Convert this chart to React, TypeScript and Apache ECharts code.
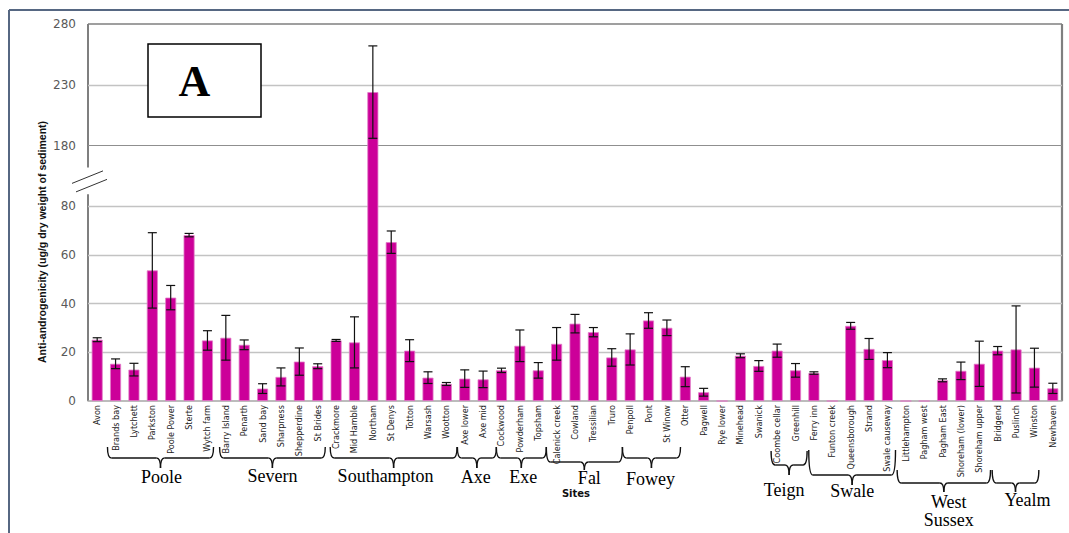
import React, { useEffect, useRef } from 'react';
import * as echarts from 'echarts';

const sites = [
  'Avon', 'Brands bay', 'Lytchett', 'Parkston', 'Poole Power', 'Sterte', 'Wytch farm',
  'Barry Island', 'Penarth', 'Sand bay', 'Sharpness', 'Shepperdine', 'St Brides',
  'Crackmore', 'Mid Hamble', 'Northam', 'St Denys', 'Totton', 'Warsash', 'Wootton',
  'Axe lower', 'Axe mid', 'Cockwood', 'Powderham', 'Topsham',
  'Calenick creek', 'Cowland', 'Tressilian', 'Truro', 'Penpoll', 'Pont', 'St Winow',
  'Otter', 'Pagwell', 'Rye lower', 'Minehead', 'Swanick', 'Coombe cellar', 'Greenhill',
  'Ferry inn', 'Funton creek', 'Queensborough', 'Strand', 'Swale causeway',
  'Littlehampton', 'Pagham west', 'Pagham East', 'Shoreham (lower)', 'Shoreham upper',
  'Bridgend', 'Puslinch', 'Winston', 'Newhaven',
];

const values = [
  25.2, 15.3, 12.9, 53.7, 42.5, 68.2, 24.9,
  26.0, 23.1, 5.1, 9.9, 16.2, 14.3,
  24.9, 24.1, 224, 65.3, 20.7, 9.6, 7.0,
  9.2, 8.9, 12.6, 22.7, 12.6,
  23.5, 31.8, 28.3, 17.9, 21.2, 33.1, 30.1,
  10.0, 3.6, 0, 18.6, 14.4, 20.7, 12.6,
  11.5, 0, 30.9, 21.4, 16.8,
  0, 0, 8.5, 12.4, 15.3,
  20.7, 21.2, 13.7, 5.2,
];

const errors = [
  0.8, 2.0, 2.6, 15.5, 5.0, 0.7, 4.0,
  9.2, 2.0, 2.0, 3.7, 5.6, 1.0,
  0.4, 10.5, 38, 4.6, 4.5, 2.4, 0.6,
  3.6, 3.4, 0.9, 6.5, 3.2,
  6.7, 3.8, 1.9, 3.6, 6.4, 3.2, 3.2,
  4.1, 1.6, 0, 0.8, 2.2, 2.7, 2.8,
  0.5, 0, 1.4, 4.3, 3.1,
  0, 0, 0.6, 3.6, 9.3,
  1.7, 17.9, 8.0, 2.1,
];

const yTicks = [0, 20, 40, 60, 80, 180, 230, 280];

const groupNames = ['Poole', 'Severn', 'Southampton', 'Axe', 'Exe', 'Fal', 'Fowey', 'Teign', 'Swale', 'West\nSussex', 'Yealm'];
const groupFrom = [0.56, 6.66, 12.68, 19.6, 21.72, 24.44, 28.58, 36.67, 38.72, 43.53, 48.7];
const groupTo = [6.33, 12.41, 19.58, 21.72, 24.44, 28.58, 31.74, 38.63, 43.44, 48.61, 51.24];

// layout of the brackets (pixels): top of ends, horizontal, tip, label centre y, label x shift
const bracketLayout = [
  { top: 447, h: 458, tip: 468, ly: 477, dx: 1 },
  { top: 447, h: 458, tip: 468, ly: 476, dx: 0 },
  { top: 447, h: 458, tip: 468, ly: 476, dx: -8 },
  { top: 447, h: 458, tip: 468, ly: 477, dx: -1 },
  { top: 447, h: 458, tip: 468, ly: 477, dx: 2 },
  { top: 447, h: 462, tip: 470, ly: 478, dx: 5 },
  { top: 447, h: 458, tip: 468, ly: 479, dx: -1 },
  { top: 451, h: 465, tip: 475, ly: 490, dx: -5 },
  { top: 450, h: 475, tip: 485, ly: 491, dx: 0 },
  { top: 470, h: 483, tip: 492, ly: 511, dx: 5 },
  { top: 470, h: 483, tip: 492, ly: 500, dx: 12 },
];

const toAxis = (v: number) => (v <= 80 ? v : 105 + (v - 180) / 2);

export default function App() {
  const ref = useRef<HTMLDivElement>(null);
  useEffect(() => {
    const chart = echarts.init(ref.current!, null, { renderer: 'svg' });
    const axisTicks = yTicks.map(toAxis);
    const errData = sites
      .map((_, i) => [i, toAxis(Math.max(0, values[i] - errors[i])), toAxis(values[i] + errors[i]), errors[i]])
      .filter((d) => d[3] > 0);

    const gridMarks = axisTicks.slice(1).map((t, k) => {
      const real = yTicks[k + 1];
      let color = '#c3c3c3';
      let width = 1.3;
      if (real === 180) { color = '#8f8f8f'; width = 1; }
      if (real === 280) { color = '#7f7f7f'; width = 1.6; }
      return { yAxis: t, lineStyle: { color, width, type: 'solid' } };
    });

    const option: any = {
      animation: false,
      grid: { left: 88, right: 7, top: 24, bottom: 132, containLabel: false, outerBoundsMode: 'none' },
      xAxis: {
        type: 'category',
        data: sites,
        axisLine: { show: true, lineStyle: { color: '#a6a6a6', width: 1.5 } },
        axisTick: { show: false },
        axisLabel: {
          interval: 0, rotate: 90, margin: 4, fontSize: 9,
          fontFamily: '"DejaVu Sans Condensed", "Liberation Sans", sans-serif', color: '#222',
        },
      },
      yAxis: {
        type: 'value', min: 0, max: 155,
        axisLine: { show: false }, axisTick: { show: false }, splitLine: { show: false },
        axisLabel: {
          customValues: axisTicks,
          formatter: (v: number) => {
            const i = axisTicks.findIndex((t) => Math.abs(t - v) < 1e-6);
            return i >= 0 ? String(yTicks[i]) : '';
          },
          margin: 12, fontSize: 12, fontFamily: '"DejaVu Sans", sans-serif', color: '#595959',
        },
      },
      series: [
        {
          type: 'bar',
          data: values.map(toAxis),
          barWidth: 11,
          z: 2,
          itemStyle: { color: '#cc0099', borderColor: '#e27cc8', borderWidth: 0.8 },
          markLine: { silent: true, symbol: 'none', z: 1, label: { show: false }, data: gridMarks },
        },
        {
          type: 'custom',
          z: 3,
          data: errData,
          encode: { x: 0, y: [1, 2] },
          renderItem: (params: any, api: any) => {
            const x = api.value(0);
            const p1 = api.coord([x, api.value(1)]);
            const p2 = api.coord([x, api.value(2)]);
            const w = 4.5;
            const st = { stroke: '#111', lineWidth: 1.2 };
            return {
              type: 'group',
              children: [
                { type: 'line', shape: { x1: p1[0], y1: p1[1], x2: p2[0], y2: p2[1] }, style: st },
                { type: 'line', shape: { x1: p1[0] - w, y1: p1[1], x2: p1[0] + w, y2: p1[1] }, style: st },
                { type: 'line', shape: { x1: p2[0] - w, y1: p2[1], x2: p2[0] + w, y2: p2[1] }, style: st },
              ],
            };
          },
        },
      ],
    };
    chart.setOption(option);

    const X = (i: number) => chart.convertToPixel({ xAxisIndex: 0 }, i) as number;
    const Yv = (v: number) => chart.convertToPixel({ yAxisIndex: 0 }, v) as number;
    const band = X(1) - X(0);
    const xAt = (f: number) => X(0) + f * band;
    const gridL = X(0) - band / 2;
    const gridR = X(sites.length - 1) + band / 2;
    const yTop = Yv(155);
    const yBottom = Yv(0);
    const gapHi = Yv(96);
    const gapLo = Yv(85);
    const gapMid = (gapHi + gapLo) / 2;

    const axisStyle = { stroke: '#7f7f7f', lineWidth: 2 };
    const graphics: any[] = [
      // outer frame
      { type: 'line', shape: { x1: 9, y1: 10, x2: 1069, y2: 10 }, style: { stroke: '#566782', lineWidth: 2 } },
      { type: 'line', shape: { x1: 9, y1: 10, x2: 9, y2: 533 }, style: { stroke: '#566782', lineWidth: 2 } },
      // broken y axis
      { type: 'line', shape: { x1: gridL, y1: yTop, x2: gridL, y2: gapHi }, style: axisStyle },
      { type: 'line', shape: { x1: gridL, y1: gapLo, x2: gridL, y2: yBottom }, style: axisStyle },
      { type: 'line', shape: { x1: gridL - 16, y1: gapMid + 2.5, x2: gridL + 15, y2: gapMid - 10 }, style: { stroke: '#333', lineWidth: 1 } },
      { type: 'line', shape: { x1: gridL - 12, y1: gapMid + 11, x2: gridL + 19, y2: gapMid - 1.5 }, style: { stroke: '#333', lineWidth: 1 } },
      // right border
      { type: 'line', shape: { x1: gridR, y1: yTop, x2: gridR, y2: yBottom }, style: { stroke: '#7f7f7f', lineWidth: 2.2 } },
      // panel label
      { type: 'rect', z: 10, shape: { x: 148, y: 44, width: 113, height: 73 }, style: { fill: '#fff', stroke: '#000', lineWidth: 1.5 } },
      {
        type: 'text', z: 11, x: 194.5, y: 81,
        style: { text: 'A', fill: '#000', font: 'bold 44px "Liberation Serif", serif', align: 'center', verticalAlign: 'middle' },
      },
      // y axis title
      {
        type: 'text', x: 42, y: 242, rotation: Math.PI / 2,
        style: {
          text: 'Anti-androgenicity (ug/g dry weight of sediment)', fill: '#111',
          font: 'bold 10.5px "Liberation Sans", sans-serif', align: 'center', verticalAlign: 'middle',
        },
      },
      // x axis title
      {
        type: 'text', x: 576, y: 493,
        style: { text: 'Sites', fill: '#111', font: 'bold 10px "DejaVu Sans", sans-serif', align: 'center', verticalAlign: 'middle' },
      },
    ];

    groupNames.forEach((name, g) => {
      const L = bracketLayout[g];
      const xl = xAt(groupFrom[g]);
      const xr = xAt(groupTo[g]);
      const xc = (xl + xr) / 2;
      const st = { stroke: '#111', lineWidth: 1.4, fill: null };
      const r = 4;
      graphics.push(
        { type: 'bezierCurve', shape: { x1: xl, y1: L.top, x2: xl + r, y2: L.h, cpx1: xl, cpy1: L.h }, style: st },
        { type: 'line', shape: { x1: xl + r, y1: L.h, x2: xc - r, y2: L.h }, style: st },
        { type: 'bezierCurve', shape: { x1: xc - r, y1: L.h, x2: xc, y2: L.tip, cpx1: xc, cpy1: L.h }, style: st },
        { type: 'bezierCurve', shape: { x1: xc + r, y1: L.h, x2: xc, y2: L.tip, cpx1: xc, cpy1: L.h }, style: st },
        { type: 'line', shape: { x1: xc + r, y1: L.h, x2: xr - r, y2: L.h }, style: st },
        { type: 'bezierCurve', shape: { x1: xr - r, y1: L.h, x2: xr, y2: L.top, cpx1: xr, cpy1: L.h }, style: st },
        {
          type: 'text', x: xc + L.dx, y: L.ly,
          style: {
            text: name, fill: '#000', font: '18px "Liberation Serif", serif', align: 'center',
            verticalAlign: 'middle', lineHeight: 18,
          },
        },
      );
    });

    chart.setOption({ graphic: graphics });
    return () => chart.dispose();
  }, []);

  return <div ref={ref} style={{ position: 'fixed', left: 0, top: 0, width: 1069, height: 533, background: '#fff' }} />;
}
